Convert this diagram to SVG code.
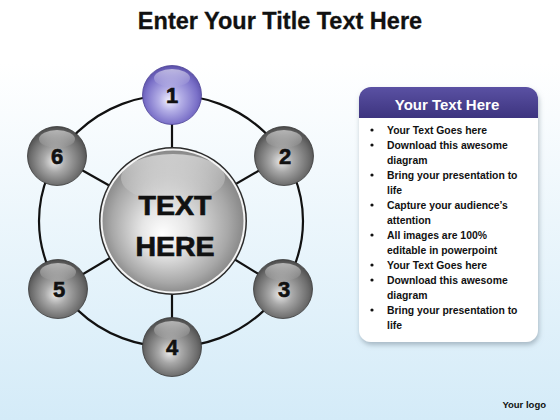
<svg xmlns="http://www.w3.org/2000/svg" width="560" height="420" viewBox="0 0 560 420">
<defs>
<linearGradient id="bg" x1="0" y1="0" x2="0" y2="1">
<stop offset="0" stop-color="#ffffff"/>
<stop offset="0.15" stop-color="#ffffff"/>
<stop offset="1" stop-color="#d4ebf8"/>
</linearGradient>
<radialGradient id="gray" cx="0.5" cy="0.55" r="0.55" fx="0.45" fy="0.6">
<stop offset="0" stop-color="#e8e8e8"/>
<stop offset="0.35" stop-color="#a8a8a8"/>
<stop offset="0.8" stop-color="#6c6c6c"/>
<stop offset="1" stop-color="#4a4a4a"/>
</radialGradient>
<radialGradient id="purple" cx="0.5" cy="0.55" r="0.55" fx="0.45" fy="0.6">
<stop offset="0" stop-color="#f0efff"/>
<stop offset="0.35" stop-color="#b3aee6"/>
<stop offset="0.8" stop-color="#7a70c8"/>
<stop offset="1" stop-color="#5a4fa8"/>
</radialGradient>
<radialGradient id="big" cx="0.5" cy="0.5" r="0.55" fx="0.42" fy="0.6">
<stop offset="0" stop-color="#ffffff"/>
<stop offset="0.3" stop-color="#e6e6e6"/>
<stop offset="0.75" stop-color="#a8a8a8"/>
<stop offset="1" stop-color="#7c7c7c"/>
</radialGradient>
<linearGradient id="hl" x1="0" y1="0" x2="0" y2="1">
<stop offset="0" stop-color="#ffffff" stop-opacity="0.55"/>
<stop offset="1" stop-color="#ffffff" stop-opacity="0"/>
</linearGradient>
<linearGradient id="hdr" x1="0" y1="0" x2="0" y2="1">
<stop offset="0" stop-color="#5a51a3"/>
<stop offset="1" stop-color="#3d347f"/>
</linearGradient>
<filter id="sh" x="-10%" y="-10%" width="125%" height="125%">
<feDropShadow dx="1" dy="3" stdDeviation="2.5" flood-color="#7a8a99" flood-opacity="0.55"/>
</filter>
<style>
.ln{fill:none;stroke:#111;stroke-width:2.2}
.num{font-family:"Liberation Sans",Arial,sans-serif;font-weight:bold;font-size:22px;fill:#111;stroke:#111;stroke-width:0.6;text-anchor:middle}
.bl{font-family:"Liberation Sans",Arial,sans-serif;font-weight:bold;font-size:10.4px;fill:#111}
.big{font-family:"Liberation Sans",Arial,sans-serif;font-weight:bold;font-size:28.5px;fill:#111;stroke:#111;stroke-width:0.7;text-anchor:middle}
.sp{stroke:#3a3a3a;stroke-width:0.8}
</style>
</defs>
<rect x="0" y="0" width="560" height="420" fill="url(#bg)"/>
<text x="280" y="29" font-family="Liberation Sans, Arial, sans-serif" font-weight="bold" font-size="23.5" text-anchor="middle" fill="#111" stroke="#111" stroke-width="0.3">Enter Your Title Text Here</text>

<g id="connectors">
<ellipse class="ln" cx="171" cy="221" rx="132" ry="126"/>
<line class="ln" x1="172" y1="95" x2="172" y2="221"/>
<line class="ln" x1="284" y1="156" x2="172" y2="221"/>
<line class="ln" x1="283" y1="289" x2="172" y2="221"/>
<line class="ln" x1="172" y1="347" x2="172" y2="221"/>
<line class="ln" x1="58" y1="289" x2="172" y2="221"/>
<line class="ln" x1="57" y1="156" x2="172" y2="221"/>
</g>

<g id="center">
<circle cx="173" cy="221" r="74" fill="#2a2a2a"/>
<circle cx="173" cy="221" r="72.5" fill="#f4f4f4"/>
<circle cx="173" cy="221" r="70.5" fill="url(#big)"/>
<ellipse cx="173" cy="178" rx="52" ry="24" fill="url(#hl)"/>
<text class="big" x="175" y="215">TEXT</text>
<text class="big" x="175" y="256">HERE</text>
</g>

<g id="node1">
<circle cx="172" cy="95" r="29.5" fill="url(#purple)" stroke="#4d4396" stroke-width="0.8"/>
<ellipse cx="172" cy="78" rx="18" ry="9" fill="url(#hl)"/>
<text class="num" x="172" y="103">1</text>
</g>
<g id="node2">
<circle cx="284" cy="156" r="29.5" fill="url(#gray)" class="sp"/>
<ellipse cx="284" cy="139" rx="18" ry="9" fill="url(#hl)"/>
<text class="num" x="285" y="164">2</text>
</g>
<g id="node3">
<circle cx="283" cy="289" r="29.5" fill="url(#gray)" class="sp"/>
<ellipse cx="283" cy="272" rx="18" ry="9" fill="url(#hl)"/>
<text class="num" x="284" y="297">3</text>
</g>
<g id="node4">
<circle cx="172" cy="347" r="29.5" fill="url(#gray)" class="sp"/>
<ellipse cx="172" cy="330" rx="18" ry="9" fill="url(#hl)"/>
<text class="num" x="172" y="355">4</text>
</g>
<g id="node5">
<circle cx="58" cy="289" r="29.5" fill="url(#gray)" class="sp"/>
<ellipse cx="58" cy="272" rx="18" ry="9" fill="url(#hl)"/>
<text class="num" x="59" y="297">5</text>
</g>
<g id="node6">
<circle cx="57" cy="156" r="29.5" fill="url(#gray)" class="sp"/>
<ellipse cx="57" cy="139" rx="18" ry="9" fill="url(#hl)"/>
<text class="num" x="57" y="164">6</text>
</g>

<g id="panel">
<rect x="359" y="87" width="179" height="255" rx="12" fill="#ffffff" filter="url(#sh)"/>
<path d="M359,118 V99 A12,12 0 0 1 371,87 H526 A12,12 0 0 1 538,99 V118 Z" fill="url(#hdr)"/>
<text x="447" y="110" font-family="Liberation Sans, Arial, sans-serif" font-weight="bold" font-size="15" text-anchor="middle" fill="#ffffff">Your Text Here</text>
<g fill="#111">
<circle cx="372" cy="130" r="1.6"/>
<circle cx="372" cy="145" r="1.6"/>
<circle cx="372" cy="175" r="1.6"/>
<circle cx="372" cy="205" r="1.6"/>
<circle cx="372" cy="235" r="1.6"/>
<circle cx="372" cy="265" r="1.6"/>
<circle cx="372" cy="280" r="1.6"/>
<circle cx="372" cy="310" r="1.6"/>
</g>
<text class="bl" x="387" y="134">Your Text Goes here</text>
<text class="bl" x="387" y="149">Download this awesome</text>
<text class="bl" x="387" y="164">diagram</text>
<text class="bl" x="387" y="179">Bring your presentation to</text>
<text class="bl" x="387" y="194">life</text>
<text class="bl" x="387" y="209">Capture your audience’s</text>
<text class="bl" x="387" y="224">attention</text>
<text class="bl" x="387" y="239">All images are 100%</text>
<text class="bl" x="387" y="254">editable in powerpoint</text>
<text class="bl" x="387" y="269">Your Text Goes here</text>
<text class="bl" x="387" y="284">Download this awesome</text>
<text class="bl" x="387" y="299">diagram</text>
<text class="bl" x="387" y="314">Bring your presentation to</text>
<text class="bl" x="387" y="329">life</text>
</g>

<text x="546" y="408" font-family="Liberation Sans, Arial, sans-serif" font-weight="bold" font-size="9.5" text-anchor="end" fill="#111">Your logo</text>
</svg>
